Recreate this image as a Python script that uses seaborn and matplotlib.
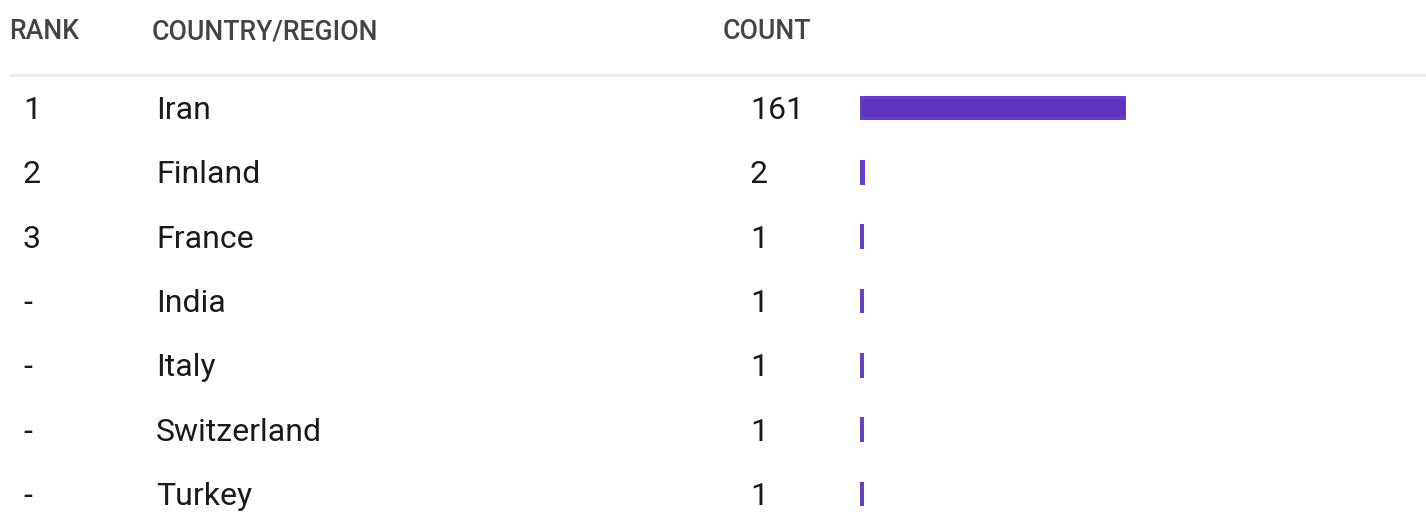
import numpy as np
import pandas as pd
import matplotlib
matplotlib.use("Agg")
import matplotlib.pyplot as plt
import matplotlib.transforms as mtransforms
import seaborn as sns

# table data
ranks     = ["1", "2", "3", "-", "-", "-", "-"]
countries = ["Iran", "Finland", "France", "India", "Italy", "Switzerland", "Turkey"]
counts    = [161, 2, 1, 1, 1, 1, 1]
headers   = ["RANK", "COUNTRY/REGION", "COUNT"]

df = pd.DataFrame({"rank": ranks, "country": countries, "count": counts})

sns.set_theme(style="white")
plt.rcParams["font.family"] = ["Roboto", "DejaVu Sans"]

W, H = 1426, 517
fig = plt.figure(figsize=(W / 100, H / 100), dpi=100)

# bar axes: x from pixel 858 to 1128, rows 64.33px apart, first row at y=107
row_h = 64.33
y0 = 107.5
ax = fig.add_axes([860 / W, 0, 266 / W, 1])
sns.barplot(data=df, x="count", y="country", orient="h", color="#5e35c1",
            saturation=1, width=0.34, edgecolor="#6640c6", linewidth=2.2, ax=ax)
ax.set_xlim(0, max(counts))
ax.set_ylim((H - y0) / row_h, -y0 / row_h)
ax.axis("off")

tr = mtransforms.blended_transform_factory(fig.transFigure, ax.transData)
txt_color = "#1a1a1a"
base = 11.5 / row_h   # baseline offset below row centre
for i, (r, c, n) in enumerate(zip(ranks, countries, counts)):
    fig.text(23 / W, i + base, r, transform=tr, fontsize=23, color=txt_color, va="baseline", ha="left")
    fig.text(156 / W, i + base, c, transform=tr, fontsize=23, color=txt_color, va="baseline", ha="left")
    fig.text(750 / W, i + base, str(n), transform=tr, fontsize=23, color=txt_color, va="baseline", ha="left")

# header row
hy = (39.5 - y0) / row_h
for x, h in zip([9, 152, 723], headers):
    fig.text(x / W, hy, h, transform=tr, fontsize=19.2, color="#444444",
             va="baseline", ha="left", fontweight="medium")

# separator line under header
fig.add_artist(plt.Line2D([10 / W, 1], [1 - 74.5 / H, 1 - 74.5 / H],
                          transform=fig.transFigure, color="#eeeeee", linewidth=2.3))

fig.savefig("out.png", dpi=100)
plt.close()
